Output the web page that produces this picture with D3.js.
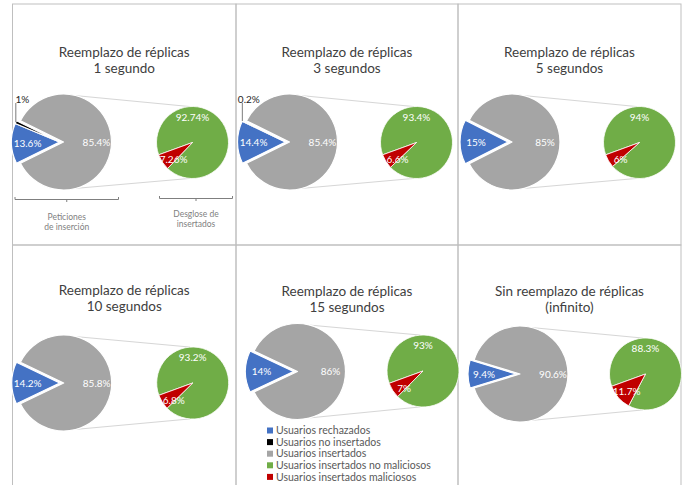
<!DOCTYPE html>
<html>
<head>
<meta charset="utf-8">
<script src="https://cdn.jsdelivr.net/npm/d3@7"></script>
<style>
  body { margin: 0; background: #fff; }
  text { font-family: Lato, "Open Sans", sans-serif; }
</style>
</head>
<body>
<svg id="chart" width="684" height="485"></svg>
<script>
// ---- data: one entry per scenario ----
const titleLine1 = ["Reemplazo de réplicas", "Reemplazo de réplicas", "Reemplazo de réplicas",
                    "Reemplazo de réplicas", "Reemplazo de réplicas", "Sin reemplazo de réplicas"];
const titleLine2 = ["1 segundo", "3 segundos", "5 segundos", "10 segundos", "15 segundos", "(infinito)"];

// first pie: share of insertion requests (%)
const rechazados   = [13.6, 14.4, 15, 14.2, 14, 9.4];
const noInsertados = [1, 0.2, 0, 0, 0, 0];
const insertados   = [85.4, 85.4, 85, 85.8, 86, 90.6];

// second pie: breakdown of inserted users (%)
const noMaliciosos = [92.74, 93.4, 94, 93.2, 93, 88.3];
const maliciosos   = [7.26, 6.6, 6, 6.8, 7, 11.7];

const legendLabels = ["Usuarios rechazados", "Usuarios no insertados", "Usuarios insertados",
                      "Usuarios insertados no maliciosos", "Usuarios insertados maliciosos"];
const bracketLeft  = ["Peticiones", "de inserción"];
const bracketRight = ["Desglose de", "insertados"];

// ---- styles ----
const C = {
  rechazados: "#4472C4", noInsertados: "#000000", insertados: "#A5A5A5",
  noMaliciosos: "#70AD47", maliciosos: "#C00000"
};
const legendColors = [C.rechazados, C.noInsertados, C.insertados, C.noMaliciosos, C.maliciosos];

// ---- layout of the six chart boxes ----
const colX = [12.5, 236, 458, 681];
const rowY = [4, 245, 486];
const layout = [
  { col: 0, row: 0, main: [63.5, 142],  sub: [192.5, 142.5], title: 57 },
  { col: 1, row: 0, main: [289.5, 142], sub: [416.5, 142.5], title: 57 },
  { col: 2, row: 0, main: [512, 142],   sub: [639.5, 142.5], title: 57 },
  { col: 0, row: 1, main: [63.7, 383],  sub: [192.7, 383],   title: 295 },
  { col: 1, row: 1, main: [297.5, 371.5], sub: [423, 371],   title: 296 },
  { col: 2, row: 1, main: [520, 374],   sub: [645.5, 374],   title: 296 }
];
const R1 = 48, R2 = 36, EXPLODE = 4;
const deg = Math.PI / 180;

const svg = d3.select("#chart");
svg.append("rect").attr("width", 684).attr("height", 485).attr("fill", "#fff");

// chart box borders
layout.forEach(p => {
  svg.append("rect")
    .attr("x", colX[p.col]).attr("y", rowY[p.row])
    .attr("width", colX[p.col + 1] - colX[p.col])
    .attr("height", rowY[p.row + 1] - rowY[p.row])
    .attr("fill", "none").attr("stroke", "#bfbfbf").attr("stroke-width", 1);
});

const arcMain = d3.arc().innerRadius(0).outerRadius(R1);
const arcSub  = d3.arc().innerRadius(0).outerRadius(R2);
const polar = (a, r) => [Math.sin(a) * r, -Math.cos(a) * r];

layout.forEach((p, i) => {
  const cx = (colX[p.col] + colX[p.col + 1]) / 2;
  const g = svg.append("g");

  // title
  const t = g.append("text").attr("text-anchor", "middle")
    .attr("fill", "#404040").style("font-size", "13.5px");
  t.append("tspan").attr("x", cx).attr("y", p.title).text(titleLine1[i]);
  t.append("tspan").attr("x", cx).attr("y", p.title + 15.5).text(titleLine2[i]);

  // first pie: "insertados" wedge centred on the right, pointing at the breakdown pie
  const mainData = [
    { key: "insertados", v: insertados[i] },
    { key: "rechazados", v: rechazados[i] },
    { key: "noInsertados", v: noInsertados[i] }
  ];
  const a0 = Math.PI / 2 - (insertados[i] / 100) * Math.PI;
  const pieMain = d3.pie().sort(null).value(d => d.v)
    .startAngle(a0).endAngle(a0 + 2 * Math.PI);
  const arcsMain = pieMain(mainData).filter(d => d.data.v > 0);

  // connector lines between the pies
  const [mx, my] = p.main, [sx, sy] = p.sub;
  const topA = polar(15 * deg, R1), topB = polar(-4 * deg, R2);
  const botA = polar(165 * deg, R1), botB = polar(184 * deg, R2);
  g.append("line").attr("x1", mx + topA[0]).attr("y1", my + topA[1])
    .attr("x2", sx + topB[0]).attr("y2", sy + topB[1])
    .attr("stroke", "#d6d6d6").attr("stroke-width", 1);
  g.append("line").attr("x1", mx + botA[0]).attr("y1", my + botA[1])
    .attr("x2", sx + botB[0]).attr("y2", sy + botB[1])
    .attr("stroke", "#d6d6d6").attr("stroke-width", 1);

  const gMain = g.append("g").attr("transform", `translate(${mx},${my})`);
  gMain.selectAll("path").data(arcsMain).join("path")
    .attr("d", arcMain)
    .attr("transform", d => d.data.key === "insertados" ? null : `translate(${-EXPLODE},0)`)
    .attr("fill", d => C[d.data.key])
    .attr("stroke", "#fff").attr("stroke-width", 1.2).attr("stroke-linejoin", "round");

  arcsMain.forEach(d => {
    const mid = (d.startAngle + d.endAngle) / 2;
    const label = d.data.v + "%";
    if (d.data.key === "insertados") {
      const [lx, ly] = polar(mid, 33);
      gMain.append("text").attr("x", lx).attr("y", ly + 3.5)
        .attr("text-anchor", "middle").attr("fill", "#fff")
        .style("font-size", "10px").text(label);
    } else if (d.data.key === "rechazados") {
      const [lx, ly] = polar(mid, 32);
      gMain.append("text").attr("x", lx - EXPLODE).attr("y", ly + 3.5)
        .attr("text-anchor", "middle").attr("fill", "#fff")
        .style("font-size", "10px").text(label);
    } else {
      // thin wedge: label outside with a leader line
      const [ex, ey] = polar(mid, R1);
      const x0 = ex - EXPLODE;
      gMain.append("line").attr("x1", x0).attr("y1", ey)
        .attr("x2", x0).attr("y2", -39)
        .attr("stroke", "#595959").attr("stroke-width", 0.8);
      gMain.append("text").attr("x", x0 + 6.5).attr("y", -39)
        .attr("text-anchor", "middle").attr("fill", "#262626")
        .style("font-size", "10px").text(label);
    }
  });

  // second pie: breakdown of inserted users
  const subData = [
    { key: "noMaliciosos", v: noMaliciosos[i] },
    { key: "maliciosos", v: maliciosos[i] }
  ];
  const s0 = 250 * deg;
  const pieSub = d3.pie().sort(null).value(d => d.v)
    .startAngle(s0).endAngle(s0 + 2 * Math.PI);
  const arcsSub = pieSub(subData);
  const gSub = g.append("g").attr("transform", `translate(${sx},${sy})`);
  gSub.selectAll("path").data(arcsSub).join("path")
    .attr("d", arcSub)
    .attr("fill", d => C[d.data.key])
    .attr("stroke", "#fff").attr("stroke-width", 0.8).attr("stroke-linejoin", "round");
  arcsSub.forEach(d => {
    const ang = d.data.key === "noMaliciosos" ? 0 : 228 * deg;
    const [lx, ly] = polar(ang, 25.5);
    gSub.append("text").attr("x", lx).attr("y", ly + 3.5)
      .attr("text-anchor", "middle").attr("fill", "#fff")
      .style("font-size", "10px").text(d.data.v + "%");
  });
});

// annotation brackets under the first scenario
function bracket(x1, x2, y, lines, ty) {
  const xm = (x1 + x2) / 2;
  const gb = svg.append("g").attr("stroke", "#7f7f7f").attr("stroke-width", 1).attr("fill", "none");
  gb.append("path").attr("d", `M${x1},${y - 2.5}V${y}H${x2}V${y - 2.5}M${xm},${y}V${y + 2.5}`);
  const t = svg.append("text").attr("text-anchor", "middle").attr("fill", "#7f7f7f")
    .style("font-size", "8.5px");
  lines.forEach((s, k) => t.append("tspan").attr("x", xm).attr("y", ty + k * 10.3).text(s));
}
bracket(15, 118.5, 199.5, bracketLeft, 219.5);
bracket(159.5, 232.5, 198.5, bracketRight, 217);

// legend
const lg = svg.append("g").attr("transform", "translate(267,430.5)");
legendLabels.forEach((s, k) => {
  const row = lg.append("g").attr("transform", `translate(0,${k * 11.6})`);
  row.append("rect").attr("x", 0).attr("y", -3).attr("width", 6).attr("height", 6)
    .attr("fill", legendColors[k]);
  row.append("text").attr("x", 9).attr("y", 3.7).attr("fill", "#595959")
    .style("font-size", "10.5px").text(s);
});
</script>
</body>
</html>
